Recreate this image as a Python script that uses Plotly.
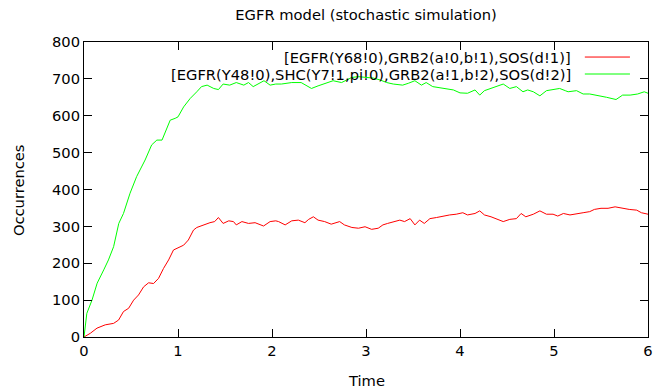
import plotly.graph_objects as go

# ---- data ----
green_t = [0, 0.03, 0.085, 0.14, 0.21, 0.26, 0.315, 0.37, 0.42, 0.49, 0.56, 0.65, 0.72, 0.775, 0.83,
           0.865, 0.917, 0.97, 1.0, 1.06, 1.13, 1.2, 1.25, 1.31, 1.38, 1.43, 1.48, 1.55, 1.62, 1.7,
           1.75, 1.8, 1.87, 1.915, 1.98, 2.04, 2.1, 2.21, 2.31, 2.42, 2.49, 2.56, 2.65, 2.74, 2.85,
           2.92, 3.0, 3.08, 3.15, 3.22, 3.29, 3.39, 3.45, 3.52, 3.59, 3.64, 3.71, 3.82, 3.93, 4.0,
           4.08, 4.16, 4.21, 4.26, 4.33, 4.4, 4.46, 4.53, 4.6, 4.67, 4.72, 4.78, 4.85, 4.92, 4.99,
           5.06, 5.12, 5.15, 5.24, 5.31, 5.38, 5.49, 5.56, 5.66, 5.73, 5.81, 5.89, 5.96, 6.0]
green_v = [0, 64, 100, 146, 182, 209, 245, 308, 335, 390, 435, 480, 521, 534, 534,
           557, 588, 593, 597, 624, 647, 665, 679, 683, 674, 671, 686, 683, 690, 683,
           690, 679, 688, 695, 683, 686, 686, 690, 690, 674, 681, 688, 695, 690, 704,
           706, 704, 702, 697, 690, 686, 683, 688, 695, 683, 690, 679, 674, 670, 662,
           661, 670, 656, 668, 674, 679, 686, 674, 679, 665, 670, 665, 654, 668, 670,
           674, 668, 665, 668, 659, 659, 654, 650, 644, 656, 656, 659, 665, 661]

red_t = [0, 0.067, 0.138, 0.226, 0.315, 0.368, 0.42, 0.475, 0.528, 0.58, 0.634, 0.687, 0.74, 0.793,
         0.846, 0.9, 0.952, 0.99, 1.03, 1.06, 1.11, 1.165, 1.2, 1.27, 1.34, 1.39, 1.43, 1.48, 1.54,
         1.59, 1.62, 1.68, 1.75, 1.82, 1.91, 1.98, 2.04, 2.07, 2.14, 2.21, 2.28, 2.35, 2.39, 2.44,
         2.49, 2.56, 2.63, 2.72, 2.77, 2.85, 2.92, 2.99, 3.06, 3.13, 3.18, 3.23, 3.29, 3.36, 3.41,
         3.47, 3.52, 3.57, 3.62, 3.68, 3.75, 3.82, 3.89, 3.96, 4.03, 4.08, 4.16, 4.21, 4.26, 4.33,
         4.4, 4.46, 4.53, 4.6, 4.65, 4.7, 4.78, 4.85, 4.92, 4.99, 5.04, 5.1, 5.17, 5.24, 5.31, 5.38,
         5.43, 5.5, 5.575, 5.65, 5.72, 5.8, 5.88, 5.93, 6.0]
red_v = [0, 10, 24, 33, 37, 46, 69, 78, 100, 114, 136, 147, 145, 159,
         186, 209, 236, 241, 247, 249, 263, 290, 297, 304, 310, 313, 324, 308, 315,
         313, 304, 313, 308, 310, 301, 313, 315, 313, 304, 315, 317, 310, 319, 326,
         317, 313, 306, 313, 304, 297, 295, 299, 292, 295, 304, 308, 313, 317, 313,
         321, 304, 317, 308, 321, 324, 328, 331, 333, 337, 331, 335, 342, 331, 326,
         319, 313, 319, 321, 335, 326, 333, 342, 333, 333, 328, 335, 331, 333, 337, 340,
         346, 349, 349, 353, 349, 346, 344, 337, 333]

series_names = ["[EGFR(Y68!0),GRB2(a!0,b!1),SOS(d!1)]",
                "[EGFR(Y48!0),SHC(Y7!1,pi!0),GRB2(a!1,b!2),SOS(d!2)]"]
series_colors = ["#ff0000", "#00ff00"]
x_ticks = [0, 1, 2, 3, 4, 5, 6]
y_ticks = [0, 100, 200, 300, 400, 500, 600, 700, 800]

FONT = "DejaVu Sans"
FS = 14.7

fig = go.Figure()
fig.add_trace(go.Scatter(x=red_t, y=red_v, mode="lines", name=series_names[0],
                         line=dict(color=series_colors[0], width=1)))
fig.add_trace(go.Scatter(x=green_t, y=green_v, mode="lines", name=series_names[1],
                         line=dict(color=series_colors[1], width=1)))

axis_common = dict(showgrid=False, zeroline=False, showline=True, linecolor="black", linewidth=1,
                   mirror="ticks", ticks="inside", ticklen=8, tickcolor="black", tickwidth=1,
                   automargin=False,
                   tickfont=dict(family=FONT, size=FS, color="black"))

fig.update_layout(
    width=655, height=390,
    margin=dict(l=84, r=7, t=42, b=53, autoexpand=False),
    paper_bgcolor="white", plot_bgcolor="white",
    showlegend=False,
    font=dict(family=FONT, size=FS, color="black"),
    title=dict(text="EGFR model (stochastic simulation)", x=0.5, xref="paper",
               y=1 - 15 / 390, yanchor="middle", font=dict(family=FONT, size=FS, color="black")),
    xaxis=dict(range=[0, 6], tickvals=x_ticks, ticktext=[str(v) for v in x_ticks], **axis_common),
    yaxis=dict(range=[0, 800], tickvals=y_ticks, ticktext=[str(v) for v in y_ticks], **axis_common),
)

# axis titles placed like gnuplot's
fig.add_annotation(text="Time", xref="paper", yref="paper", x=0.5, y=-0.1458,
                   xanchor="center", yanchor="middle", showarrow=False,
                   font=dict(family=FONT, size=FS, color="black"))
fig.add_annotation(text="Occurrences", xref="paper", yref="paper", x=-0.117, y=0.498,
                   xanchor="center", yanchor="middle", showarrow=False, textangle=-90,
                   font=dict(family=FONT, size=FS, color="black"))

# gnuplot-style key: right-aligned text with the line sample on its right
key_y = [0.949, 0.8915]
for name, col, yy in zip(series_names, series_colors, key_y):
    fig.add_annotation(text=name, xref="paper", yref="paper", x=0.867, y=yy,
                       xanchor="right", yanchor="middle", showarrow=False,
                       font=dict(family=FONT, size=FS, color="black"))
    fig.add_shape(type="line", xref="paper", yref="paper", x0=0.888, x1=0.968, y0=yy, y1=yy,
                  line=dict(color=col, width=1))

fig.write_html("out.html")
